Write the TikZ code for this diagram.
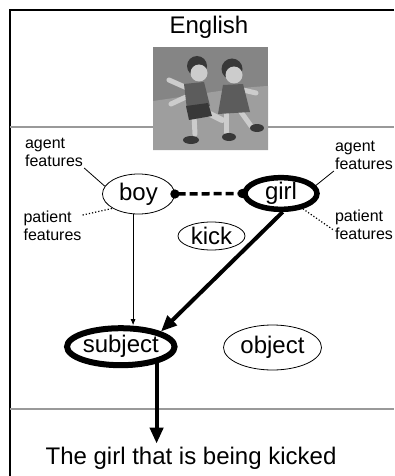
\documentclass[tikz,border=0pt]{standalone}
\usepackage{fontspec}
\setmainfont{Liberation Sans}
\usepackage{tikz}
\usetikzlibrary{arrows.meta,shapes.geometric}

\definecolor{sky}{gray}{0.52}
\definecolor{ground}{gray}{0.62}
\definecolor{cloth}{gray}{0.36}
\definecolor{hair}{gray}{0.22}
\definecolor{skin}{gray}{0.8}

\begin{document}
\begin{tikzpicture}[x=1pt, y=-1pt,
    role/.style={ellipse, draw, inner sep=0pt, line width=0.8pt, font=\fontsize{24}{28}\selectfont},
    active/.style={role, line width=5.5pt},
    feat/.style={align=left, inner sep=1pt, font=\fontsize{16}{18}\selectfont},
    big/.style={inner sep=3pt, font=\fontsize{24}{28}\selectfont},
    limb/.style={skin, line width=5pt, line cap=round},
    heavy/.style={line width=4pt, -{Triangle[length=16pt, width=13pt]}}]
    \useasboundingbox (0, 0) rectangle (394, 476);
    \draw[line width=2pt] (394, 10) -- (10, 10) -- (10, 476);
    \draw[gray!80, line width=1.6pt] (10, 127) -- (394, 127)
                                     (10, 409) -- (394, 409);

    \fill[sky] (153, 47) rectangle (268, 150);
    \fill[ground] (153, 101) .. controls (190, 96) and (230, 88) .. (268, 86) -- (268, 150) -- (153, 150) -- cycle;
    \draw[limb] (187, 88) -- (169, 80);
    \draw[limb] (186, 97) -- (171, 104);
    \draw[limb] (194, 116) -- (195, 134);
    \draw[limb, line width=6pt] (206, 112) -- (222, 120);
    \fill[cloth] (184, 84) -- (204, 82) -- (210, 106) -- (187, 110) -- cycle;
    \fill[hair] (186, 106) -- (208, 103) -- (212, 116) -- (189, 120) -- cycle;
    \fill[hair] (191, 140) ellipse (8 and 4);
    \fill[hair] (197, 66) circle (10);
    \fill[skin] (199, 73) circle (8.5);
    \draw[limb] (243, 90) -- (256, 93);
    \draw[limb] (226, 112) -- (226, 132);
    \draw[limb] (241, 112) -- (251, 126);
    \fill[cloth] (223, 85) -- (243, 84) -- (250, 112) -- (218, 114) -- cycle;
    \fill[hair] (229, 137) ellipse (7 and 4);
    \fill[hair] (257, 128) ellipse (7 and 4);
    \fill[hair] (232, 69) circle (10.5);
    \fill[skin] (234, 75) circle (8.5);

    \node[big] (title) at (209, 27) {English};
    \node[role, minimum width=72pt, minimum height=40pt] (boy) at (138.5, 194) {boy};
    \node[active, minimum width=72pt, minimum height=31pt] (girl) at (281, 193.5) {girl};
    \node[role, minimum width=67pt, minimum height=28pt] (kick) at (211.5, 236) {kick};
    \node[active, line width=6pt, minimum width=99pt, minimum height=37pt] (subject) at (120.8, 346.7) {subject};
    \node[role, minimum width=98pt, minimum height=45pt] (object) at (272.5, 347.5) {object};
    \node[feat] (agentL) at (54, 152.5) {agent\\features};
    \node[feat] (patientL) at (52.5, 226) {patient\\features};
    \node[feat] (agentR) at (364, 155.5) {agent\\features};
    \node[feat] (patientR) at (364, 225) {patient\\features};
    \node[big] (sentence) at (191, 458) {The girl that is being kicked};

    \draw[line width=0.8pt] (agentL.south east) -- (boy.167);
    \draw[dotted, line width=1.2pt] (patientL.20) -- (boy.209);
    \draw[line width=0.8pt] (girl.13) -- (agentR.south west);
    \draw[dotted, line width=1.2pt] (girl.-35) -- (patientR.190);
    \draw[line width=3.5pt, dash pattern=on 8pt off 4pt, {Circle[length=9pt]}-{Circle[length=9pt]},
          shorten <=-4.5pt, shorten >=-4.5pt] (boy.east) -- (girl.west);
    \draw[line width=0.8pt, -{Latex[length=6pt, width=5pt]}] (boy.255) -- (boy.255 |- subject.north);
    \draw[heavy] (girl.-85) -- (subject.north east);
    \draw[heavy] (subject.-25) -- (subject.-25 |- sentence.north);
\end{tikzpicture}
\end{document}
